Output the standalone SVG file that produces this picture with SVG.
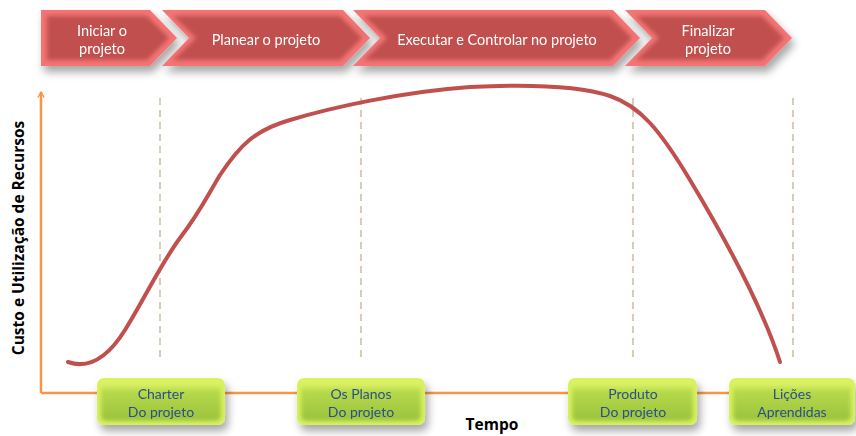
<svg xmlns="http://www.w3.org/2000/svg" width="856" height="436" viewBox="0 0 856 436">
<defs>
<filter id="shadow" x="-10%" y="-20%" width="130%" height="180%">
<feDropShadow dx="3" dy="6" stdDeviation="4" flood-color="#000" flood-opacity="0.35"/>
</filter>
<filter id="soft" x="-5%" y="-10%" width="110%" height="120%">
<feGaussianBlur stdDeviation="2"/>
</filter>
<linearGradient id="gbox" x1="0" y1="0" x2="0" y2="1">
<stop offset="0" stop-color="#e6f76c"/>
<stop offset="0.25" stop-color="#b5d94a"/>
<stop offset="1" stop-color="#9bc23e"/>
</linearGradient>
<marker id="arr" viewBox="0 0 10 10" refX="8" refY="5" markerWidth="8" markerHeight="8" orient="auto" markerUnits="userSpaceOnUse">
<path d="M1,1 L8,5 L1,9" fill="none" stroke="#f79646" stroke-width="1.6"/>
</marker>
<style>
.outer{fill:#f47474;}
.inner{fill:#c0504d;filter:url(#soft);}
.ptxt{font-family:Lato,"Open Sans",sans-serif;font-size:14.5px;fill:#ffffff;text-anchor:middle;}
.gtxt{font-family:Lato,"Open Sans",sans-serif;font-size:14px;fill:#2b4f8a;text-anchor:middle;}
.gouter{fill:#d8f25e;}
.ginner{fill:url(#gbox);filter:url(#soft);}
.dash{stroke:#c9bd9c;stroke-width:1.5;stroke-dasharray:7,5;fill:none;}
.axis{stroke:#f79646;stroke-width:2.5;fill:none;}
.lbl{font-family:"Open Sans","Liberation Sans",sans-serif;font-weight:bold;font-size:15.5px;fill:#000;text-anchor:middle;}
</style>
</defs>
<rect width="856" height="436" fill="#ffffff"/>

<g id="guides">
<line class="dash" x1="160" y1="98" x2="160" y2="362"/>
<line class="dash" x1="361" y1="98" x2="361" y2="362"/>
<line class="dash" x1="633" y1="98" x2="633" y2="362"/>
<line class="dash" x1="793" y1="98" x2="793" y2="362"/>
</g>

<g id="connectors">
<path class="axis" d="M41,393 L41,92" marker-end="url(#arr)"/>
<line class="axis" x1="41" y1="393" x2="852" y2="393"/>
<path id="curve" d="M68,362 C85,368 105,362 125,330 C145,298 160,265 180,238 C200,212 205,200 220,175 C240,145 255,130 290,120 C330,108 400,92 470,87 C530,84 580,86 610,96 C640,106 660,130 690,180 C720,230 760,300 780,362" fill="none" stroke="#c0504d" stroke-width="4" stroke-linecap="round"/>
</g>

<g id="phase1" filter="url(#shadow)">
<polygon class="outer" points="41,10 150,10 177,38 150,66 41,66"/>
<polygon class="inner" points="47,16 147,16 169,38 147,60 47,60"/>
<text class="ptxt" x="102" y="36">Iniciar o</text>
<text class="ptxt" x="102" y="54">projeto</text>
</g>
<g id="phase2" filter="url(#shadow)">
<polygon class="outer" points="162,10 343,10 370,38 343,66 162,66 189,38"/>
<polygon class="inner" points="173,16 340,16 362,38 340,60 173,60 196,38"/>
<text class="ptxt" x="266" y="45">Planear o projeto</text>
</g>
<g id="phase3" filter="url(#shadow)">
<polygon class="outer" points="353,10 613,10 640,38 613,66 353,66 380,38"/>
<polygon class="inner" points="364,16 610,16 632,38 610,60 364,60 387,38"/>
<text class="ptxt" x="497" y="45">Executar e Controlar no projeto</text>
</g>
<g id="phase4" filter="url(#shadow)">
<polygon class="outer" points="625,10 765,10 792,38 765,66 625,66 652,38"/>
<polygon class="inner" points="636,16 762,16 784,38 762,60 636,60 659,38"/>
<text class="ptxt" x="708" y="36">Finalizar</text>
<text class="ptxt" x="708" y="54">projeto</text>
</g>

<g id="charter" filter="url(#shadow)">
<rect class="gouter" x="97" y="378" width="128" height="47" rx="7"/>
<rect class="ginner" x="101" y="382" width="120" height="39" rx="5"/>
<text class="gtxt" x="161" y="399">Charter</text>
<text class="gtxt" x="161" y="417">Do projeto</text>
</g>
<g id="planos" filter="url(#shadow)">
<rect class="gouter" x="297" y="378" width="128" height="47" rx="7"/>
<rect class="ginner" x="301" y="382" width="120" height="39" rx="5"/>
<text class="gtxt" x="361" y="399">Os Planos</text>
<text class="gtxt" x="361" y="417">Do projeto</text>
</g>
<g id="produto" filter="url(#shadow)">
<rect class="gouter" x="568" y="378" width="129" height="47" rx="7"/>
<rect class="ginner" x="572" y="382" width="121" height="39" rx="5"/>
<text class="gtxt" x="633" y="399">Produto</text>
<text class="gtxt" x="633" y="417">Do projeto</text>
</g>
<g id="licoes" filter="url(#shadow)">
<rect class="gouter" x="729" y="378" width="126" height="47" rx="7"/>
<rect class="ginner" x="733" y="382" width="118" height="39" rx="5"/>
<text class="gtxt" x="792" y="399">Lições</text>
<text class="gtxt" x="792" y="417">Aprendidas</text>
</g>

<g id="labels">
<text class="lbl" transform="translate(24,238) rotate(-90)">Custo e Utilização de Recursos</text>
<text class="lbl" x="492" y="430">Tempo</text>
</g>
</svg>
